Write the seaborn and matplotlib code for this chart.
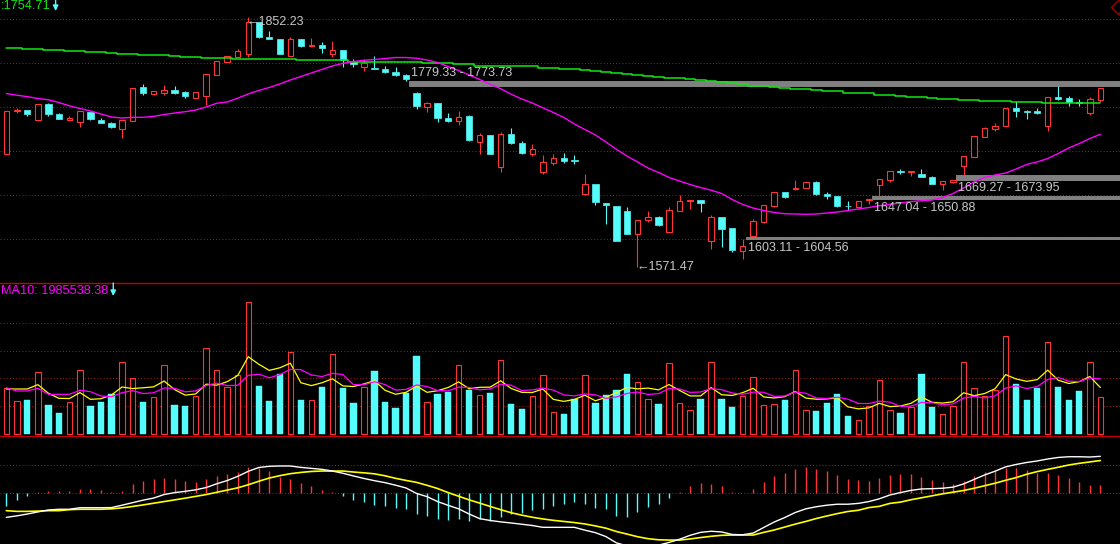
import numpy as np
import pandas as pd
import matplotlib
matplotlib.use("Agg")
import matplotlib.pyplot as plt
import seaborn as sns

# ---------------- data ----------------
open_ = [1698.3, 1746.2, 1747.3, 1735.7, 1754.0, 1742.5, 1736.4, 1734.2, 1745.1, 1736.1,
         1732.7, 1726.3, 1735.3, 1773.1, 1765.6, 1766.7, 1770.1, 1767.5, 1761.1, 1763.4,
         1786.9, 1801.5, 1807.1, 1810.5, 1846.1, 1829.2, 1827.0, 1808.2, 1827.0, 1818.8,
         1820.3, 1810.5, 1814.6, 1801.2, 1795.9, 1794.8, 1793.3, 1790.3, 1786.6, 1766.4,
         1751.0, 1755.2, 1738.3, 1735.3, 1740.6, 1711.7, 1719.2, 1683.7, 1720.4, 1709.9,
         1698.3, 1678.1, 1687.8, 1694.0, 1691.2, 1653.4, 1664.3, 1642.9, 1639.6, 1634.0,
         1607.8, 1624.2, 1626.9, 1610.1, 1634.3, 1645.2, 1646.3, 1600.3, 1626.9, 1614.9,
         1589.4, 1605.6, 1621.9, 1639.9, 1654.9, 1658.3, 1659.8, 1666.8, 1652.7, 1650.8,
         1640.1, 1638.1, 1646.0, 1662.8, 1669.1, 1678.3, 1677.4, 1675.5, 1672.5, 1663.9,
         1666.8, 1684.1, 1694.9, 1717.3, 1726.3, 1729.7, 1749.6, 1746.2, 1746.5, 1729.7,
         1761.6, 1760.8, 1756.6, 1744.3, 1758.9]
high = [1745.9, 1749.6, 1747.8, 1754.0, 1755.2, 1743.9, 1740.2, 1746.0, 1745.3, 1738.3,
        1733.8, 1736.0, 1771.8, 1776.5, 1768.5, 1775.4, 1774.3, 1768.6, 1767.4, 1787.6,
        1802.1, 1807.8, 1815.8, 1852.23, 1846.5, 1836.0, 1827.4, 1828.9, 1827.2, 1828.4,
        1823.6, 1824.7, 1814.8, 1804.2, 1804.2, 1807.9, 1796.3, 1795.6, 1787.7, 1768.0,
        1756.6, 1755.4, 1743.9, 1746.2, 1742.0, 1721.5, 1719.4, 1722.6, 1727.1, 1712.2,
        1709.2, 1696.8, 1697.9, 1699.0, 1696.8, 1675.5, 1664.5, 1643.1, 1640.0, 1638.8,
        1623.7, 1634.3, 1628.7, 1638.8, 1651.6, 1646.5, 1646.5, 1629.5, 1627.1, 1615.1,
        1603.11, 1624.7, 1641.0, 1655.6, 1655.1, 1668.4, 1666.4, 1667.6, 1655.3, 1651.0,
        1644.8, 1645.7, 1647.04, 1670.1, 1678.7, 1680.7, 1678.7, 1681.4, 1672.7, 1667.5,
        1669.27, 1695.5, 1718.0, 1727.9, 1732.4, 1749.4, 1757.1, 1747.6, 1749.6, 1761.8,
        1774.2, 1763.0, 1759.7, 1761.6, 1771.9]
low = [1698.3, 1743.9, 1740.6, 1735.4, 1740.6, 1737.3, 1735.3, 1728.2, 1736.4, 1732.9,
       1727.1, 1716.2, 1735.1, 1764.1, 1764.5, 1764.1, 1765.6, 1761.1, 1760.9, 1753.2,
       1786.7, 1801.3, 1806.9, 1807.1, 1828.4, 1826.7, 1810.2, 1808.0, 1818.3, 1818.3,
       1811.6, 1807.1, 1795.9, 1795.9, 1791.4, 1793.5, 1788.8, 1785.8, 1779.33, 1748.4,
       1745.4, 1734.2, 1733.8, 1730.8, 1712.5, 1698.3, 1698.1, 1678.1, 1709.2, 1697.9,
       1696.0, 1675.8, 1685.6, 1687.8, 1686.7, 1651.9, 1640.7, 1619.7, 1600.3, 1608.3,
       1571.47, 1621.9, 1617.1, 1609.9, 1634.1, 1636.5, 1632.8, 1591.7, 1593.9, 1588.3,
       1579.8, 1604.56, 1620.8, 1638.8, 1648.2, 1658.1, 1659.6, 1652.3, 1647.1, 1638.8,
       1635.1, 1637.9, 1641.5, 1650.88, 1666.8, 1675.2, 1673.6, 1672.3, 1664.4, 1657.9,
       1665.7, 1673.95, 1694.7, 1717.1, 1723.7, 1729.5, 1739.8, 1737.5, 1743.2, 1724.1,
       1758.9, 1752.1, 1752.1, 1742.0, 1756.6]
close = [1745.9, 1747.0, 1742.8, 1753.7, 1742.8, 1737.5, 1738.7, 1745.8, 1737.2, 1733.1,
         1728.2, 1735.7, 1771.6, 1766.4, 1768.3, 1769.8, 1766.4, 1763.4, 1767.2, 1787.4,
         1801.9, 1807.6, 1813.5, 1845.7, 1829.6, 1827.0, 1810.5, 1826.6, 1819.1, 1820.3,
         1817.2, 1814.6, 1803.4, 1798.6, 1799.7, 1793.7, 1789.9, 1786.9, 1782.1, 1751.8,
         1754.8, 1738.3, 1735.3, 1739.4, 1713.6, 1719.2, 1698.3, 1720.4, 1709.9, 1698.7,
         1703.5, 1688.6, 1693.4, 1690.1, 1690.5, 1664.3, 1644.4, 1640.4, 1600.6, 1608.5,
         1623.5, 1626.9, 1618.3, 1634.7, 1644.8, 1646.3, 1643.3, 1626.9, 1614.1, 1590.2,
         1594.4, 1622.7, 1640.4, 1654.9, 1650.0, 1659.8, 1666.2, 1653.4, 1651.1, 1639.9,
         1639.7, 1645.5, 1647.0, 1669.9, 1678.5, 1677.8, 1678.5, 1672.5, 1664.6, 1667.3,
         1669.2, 1695.3, 1717.8, 1726.8, 1729.3, 1749.2, 1746.5, 1745.1, 1743.9, 1761.6,
         1760.0, 1756.6, 1755.5, 1759.3, 1771.7]

ma_long = [1816.5, 1816.5, 1815.4, 1815.4, 1814.3, 1814.3, 1813.2, 1813.2, 1812.1, 1812.1,
           1810.9, 1809.8, 1809.8, 1808.7, 1808.7, 1808.7, 1807.6, 1806.4, 1806.4, 1805.3,
           1805.3, 1805.3, 1804.2, 1804.2, 1804.2, 1804.2, 1804.2, 1804.2, 1803.1, 1803.1,
           1803.1, 1803.1, 1803.1, 1800.8, 1800.8, 1800.8, 1800.8, 1800.8, 1800.8, 1800.8,
           1799.7, 1799.7, 1799.7, 1798.6, 1798.6, 1797.0, 1797.0, 1797.0, 1797.0, 1797.0,
           1796.3, 1794.1, 1794.1, 1793.0, 1793.0, 1791.9, 1790.7, 1789.6, 1788.5, 1787.4,
           1786.3, 1785.1, 1784.0, 1782.9, 1782.9, 1781.8, 1780.6, 1779.5, 1778.4, 1777.3,
           1776.2, 1773.9, 1773.9, 1772.8, 1771.7, 1770.5, 1770.5, 1769.4, 1768.3, 1768.3,
           1766.1, 1766.1, 1766.1, 1763.8, 1763.8, 1762.7, 1761.6, 1761.6, 1760.4, 1759.3,
           1759.3, 1758.2, 1758.2, 1757.1, 1757.1, 1757.1, 1755.9, 1755.9, 1755.9, 1754.8,
           1754.8, 1754.8, 1754.8, 1754.8, 1754.71]
ma_mid = [1765.8, 1763.9, 1762.3, 1760.2, 1758.8, 1755.7, 1752.0, 1749.0, 1746.2, 1742.8,
          1739.5, 1738.3, 1739.1, 1739.1, 1740.2, 1742.2, 1743.9, 1745.4, 1747.3, 1750.7,
          1754.9, 1756.3, 1760.6, 1765.3, 1769.2, 1772.6, 1776.5, 1781.0, 1784.9, 1788.8,
          1792.8, 1796.7, 1799.7, 1801.7, 1803.1, 1804.0, 1805.1, 1806.2, 1806.2, 1805.4,
          1803.4, 1800.6, 1796.1, 1791.6, 1786.6, 1781.5, 1776.2, 1771.2, 1764.9, 1759.7,
          1755.2, 1749.8, 1744.5, 1738.9, 1731.6, 1725.4, 1719.3, 1711.4, 1703.2, 1695.7,
          1689.0, 1682.2, 1677.2, 1671.6, 1667.6, 1663.7, 1660.3, 1657.3, 1653.6, 1646.9,
          1641.3, 1637.3, 1634.5, 1632.3, 1630.9, 1630.6, 1630.3, 1630.6, 1631.7, 1632.8,
          1634.5, 1636.2, 1637.9, 1639.9, 1641.5, 1642.9, 1644.6, 1645.5, 1646.3, 1649.1,
          1653.6, 1659.8, 1666.5, 1671.6, 1674.4, 1676.6, 1681.1, 1686.2, 1689.0, 1692.9,
          1698.5, 1704.7, 1709.7, 1715.3, 1720.0]

volume_m = [1.666, 1.176, 1.223, 2.219, 1.043, 0.755, 1.140, 2.291, 1.007, 1.151,
            1.428, 2.579, 2.004, 1.151, 1.320, 2.471, 1.043, 1.007, 1.356, 3.083,
            2.291, 1.680, 2.112, 4.737, 1.727, 1.187, 2.147, 2.939, 1.223, 1.212,
            1.691, 2.867, 1.655, 1.115, 1.680, 2.266, 1.151, 0.935, 1.464, 2.806,
            1.140, 1.439, 1.511, 2.471, 1.583, 1.392, 1.475, 2.651, 1.079, 0.899,
            1.356, 2.112, 0.781, 0.719, 1.247, 2.112, 1.115, 1.403, 1.583, 2.158,
            1.858, 1.259, 1.079, 2.542, 1.103, 0.863, 1.259, 2.579, 1.259, 0.971,
            1.367, 2.039, 1.031, 1.067, 1.223, 2.291, 0.851, 0.827, 1.115, 1.439,
            0.647, 0.492, 1.007, 1.930, 0.851, 0.755, 0.971, 2.158, 0.971, 0.707,
            0.995, 2.579, 1.643, 1.356, 1.583, 3.514, 1.799, 1.223, 1.655, 3.299,
            1.691, 1.223, 1.547, 2.579, 1.320]
vol_ma5_head = [1.619, 1.619, 1.619, 1.775]
vol_ma10_head = [1.666, 1.547, 1.547, 1.643, 1.428, 1.428, 1.428, 1.572, 1.522]

dif = [-17.2, -16.1, -14.8, -13.3, -11.9, -11.4, -11.4, -10.3, -10.3, -10.3,
       -10.2, -8.5, -6.7, -4.9, -3.4, -0.9, 0.5, 1.4, 2.5, 4.1,
       6.8, 9.1, 12.1, 15.7, 18.4, 19.3, 19.5, 19.5, 18.5, 17.8,
       17.1, 15.9, 14.3, 12.4, 10.6, 9.0, 7.6, 5.8, 3.8, -0.1,
       -2.4, -5.9, -8.6, -11.1, -14.8, -18.1, -19.4, -20.4, -21.2, -22.1,
       -23.0, -24.3, -24.3, -24.3, -24.3, -26.3, -28.1, -30.9, -35.4, -37.5,
       -37.7, -37.3, -37.0, -35.1, -32.8, -30.0, -27.9, -27.1, -27.6, -29.4,
       -29.6, -28.4, -24.4, -20.5, -17.3, -13.7, -11.1, -9.6, -8.5, -7.8,
       -7.8, -7.2, -5.9, -3.9, -1.2, 0.5, 2.1, 3.1, 3.3, 3.6,
       4.4, 6.7, 9.9, 13.1, 15.8, 18.9, 20.6, 22.0, 23.1, 24.5,
       25.6, 26.1, 26.1, 25.9, 26.4]
dea = [-12.4, -12.9, -12.9, -12.7, -12.4, -12.4, -11.7, -11.4, -11.4, -11.4,
       -11.1, -10.4, -9.4, -8.3, -7.1, -5.9, -4.7, -3.5, -2.2, -0.9,
       0.7, 2.3, 3.9, 6.1, 8.6, 10.9, 12.6, 14.0, 14.9, 15.6,
       15.9, 15.9, 15.9, 15.2, 14.6, 13.9, 12.5, 10.7, 9.2, 7.8,
       5.7, 3.4, 0.5, -2.1, -4.7, -7.0, -9.4, -11.7, -13.9, -15.6,
       -17.1, -18.3, -19.3, -20.1, -20.9, -21.9, -23.3, -24.9, -27.3, -29.1,
       -31.0, -32.4, -33.2, -33.4, -33.4, -32.6, -31.6, -30.7, -30.0, -29.8,
       -29.8, -29.8, -27.9, -26.2, -24.1, -22.0, -20.1, -18.0, -16.2, -14.5,
       -13.0, -12.1, -10.2, -9.3, -7.2, -6.3, -4.6, -3.2, -1.8, -0.4,
       0.8, 2.0, 3.6, 5.4, 7.2, 9.3, 11.2, 13.6, 15.5, 17.1,
       18.6, 20.2, 21.4, 22.4, 23.4]
macd = [-8.8, -4.8, -1.7, 0.9, 1.6, 1.6, 1.6, 3.1, 3.1, 2.4,
        0.9, 1.6, 6.6, 8.8, 10.2, 11.2, 10.2, 8.8, 8.1, 10.2,
        12.4, 13.8, 15.2, 18.8, 18.1, 15.9, 11.6, 10.2, 7.4, 5.2,
        2.4, 0.7, -1.7, -4.8, -6.2, -8.4, -9.1, -10.5, -11.2, -14.8,
        -16.2, -18.4, -19.0, -18.4, -19.8, -18.4, -19.8, -16.9, -14.8, -14.1,
        -11.9, -11.2, -9.1, -7.6, -6.2, -7.6, -10.5, -11.2, -16.2, -16.9,
        -13.4, -9.8, -7.6, -3.4, 0.9, 5.2, 7.4, 6.6, 5.2, 0.9,
        0.0, 3.1, 8.1, 12.4, 14.5, 17.4, 18.8, 17.4, 15.9, 13.1,
        10.2, 9.5, 8.8, 10.9, 13.1, 13.8, 13.8, 11.6, 9.5, 8.1,
        6.6, 8.8, 12.4, 15.2, 15.9, 18.1, 18.1, 16.7, 14.5, 14.5,
        13.1, 10.9, 8.1, 5.9, 5.9]

price_grid = [1849.1, 1799.7, 1750.3, 1701.0, 1651.6, 1602.2]
vol_grid_m = [1, 2, 3, 4]
macd_grid = [20, 0]
gap_start = [38, 70, 82, 90]
gap_a = [1779.33, 1603.11, 1647.04, 1669.27]
gap_b = [1773.73, 1604.56, 1650.88, 1673.95]
gap_label_above = [True, False, False, False]
high_idx, high_val = 23, 1852.23
low_idx, low_val = 60, 1571.47
ma_long_label = ":1754.71"
vol_label = "MA10: 1985538.38"

# ---------------- style ----------------
RED = "#ff3535"
CYAN = "#54fcfc"
GREEN = "#12e612"
MAGENTA = "#ff00ff"
YELLOW = "#ffff00"
WHITE = "#ffffff"
GRID = "#981a1a"
SEP = "#c40000"
TXT = "#c8c8c8"
BAND = "#808080"

sns.set_theme(style="dark")
plt.rcParams["font.family"] = ["Liberation Sans", "DejaVu Sans"]

W, H = 1120, 544
fig = plt.figure(figsize=(W / 100, H / 100), dpi=100, facecolor="black")
ax_p = fig.add_axes([0, 1 - 282 / H, 1, 282 / H])
ax_v = fig.add_axes([0, 1 - 436 / H, 1, 153 / H])
ax_m = fig.add_axes([0, 0, 1, 107 / H])

n = len(close)
x = np.arange(n)
XMIN, XMAX = -0.599, 105.87

for ax in (ax_p, ax_v, ax_m):
    ax.set_facecolor("black")
    ax.set_xlim(XMIN, XMAX)
    ax.set_xticks([])
    ax.set_yticks([])
    ax.grid(False)
    for s in ax.spines.values():
        s.set_visible(False)

ax_p.set_ylim(1554.3, 1870.75)
ax_v.set_ylim(-0.072e6, 5.432e6)
ax_m.set_ylim(-36.2, 40.2)

dot = (0, (1, 2))
for g in price_grid:
    ax_p.axhline(g, color=GRID, lw=0.75, ls=dot, zorder=0)
for g in vol_grid_m:
    ax_v.axhline(g * 1e6, color=GRID, lw=0.75, ls=dot, zorder=0)
for g in macd_grid:
    ax_m.axhline(g, color=GRID, lw=0.75, ls=dot, zorder=0)

for side in ("top", "bottom"):
    ax_v.spines[side].set_visible(True)
    ax_v.spines[side].set_color(SEP)
    ax_v.spines[side].set_linewidth(1.0)

# ---------------- price panel ----------------
o = np.array(open_); h = np.array(high); l = np.array(low); c = np.array(close)
up = c >= o
top = np.maximum(o, c)
bot = np.minimum(o, c)

for s, a, b, above in zip(gap_start, gap_a, gap_b, gap_label_above):
    lo, hi = min(a, b), max(a, b)
    ax_p.fill_between([s + 0.28, XMAX], lo, hi, color=BAND, edgecolor=BAND,
                      linewidth=0.7, zorder=1)
    mid = (lo + hi) / 2
    ax_p.annotate(f"{a:.2f} - {b:.2f}", xy=(s + 0.5, mid),
                  xytext=(0, 7.8 if above else -7.6), textcoords="offset points",
                  ha="left", va="center", color=TXT, fontsize=9, zorder=6)

ax_p.vlines(x, top, h, colors=np.where(up, RED, CYAN), lw=0.8, zorder=3)
ax_p.vlines(x, l, bot, colors=np.where(up, RED, CYAN), lw=0.8, zorder=3)
ax_p.bar(x[up], (c - o)[up], bottom=o[up], width=0.52, facecolor="black",
         edgecolor=RED, linewidth=0.8, zorder=3)
ax_p.bar(x[~up], (o - c)[~up], bottom=c[~up], width=0.6, facecolor=CYAN,
         edgecolor=CYAN, linewidth=0.5, zorder=3)

sns.lineplot(x=x, y=ma_long, ax=ax_p, color=GREEN, lw=1.1, drawstyle="steps-mid",
             legend=False, zorder=4)
sns.lineplot(x=x, y=ma_mid, ax=ax_p, color=MAGENTA, lw=1.0, legend=False, zorder=4)

ax_p.annotate(f"\u2190{high_val:.2f}", xy=(high_idx, high_val), xytext=(-1, -4),
              textcoords="offset points", ha="left", va="center", color=TXT,
              fontsize=9, zorder=6)
ax_p.annotate(f"\u2190{low_val:.2f}", xy=(low_idx, low_val), xytext=(-1, 0),
              textcoords="offset points", ha="left", va="center", color=TXT,
              fontsize=9, zorder=6)

ax_p.plot([0.9985], [1 - 6.5 / 282], transform=ax_p.transAxes, marker="D", ms=7,
          mfc="none", mec="#a00000", mew=1.0, clip_on=False, zorder=6)

# ---------------- volume panel ----------------
vol = np.array(volume_m) * 1e6
vs = pd.Series(vol)
vma5 = vs.rolling(5).mean().to_numpy()
vma5[:4] = np.array(vol_ma5_head) * 1e6
vma10 = vs.rolling(10).mean().to_numpy()
vma10[:9] = np.array(vol_ma10_head) * 1e6

ax_v.bar(x[up], vol[up], width=0.52, facecolor="black", edgecolor=RED,
         linewidth=0.8, zorder=2)
ax_v.bar(x[~up], vol[~up], width=0.6, facecolor=CYAN, edgecolor=CYAN,
         linewidth=0.3, zorder=2)
sns.lineplot(x=x, y=vma5, ax=ax_v, color=YELLOW, lw=0.9, legend=False, zorder=4)
sns.lineplot(x=x, y=vma10, ax=ax_v, color=MAGENTA, lw=0.9, legend=False, zorder=4)

# ---------------- MACD panel ----------------
mh = np.array(macd)
ax_m.vlines(x, 0, mh, colors=np.where(mh >= 0, RED, CYAN), lw=1.0, zorder=2)
sns.lineplot(x=x, y=dea, ax=ax_m, color=YELLOW, lw=1.2, legend=False, zorder=3)
sns.lineplot(x=x, y=dif, ax=ax_m, color=WHITE, lw=1.0, legend=False, zorder=4)

# ---------------- panel labels with small cyan arrows ----------------
pt = fig.text(1 / W, 1 - 6 / H, ma_long_label, color=GREEN, fontsize=9.2,
              ha="left", va="center")
vt = fig.text(1 / W, 1 - 291 / H, vol_label, color=MAGENTA, fontsize=9.2,
              ha="left", va="center")
fig.canvas.draw()
for t, y0, y1 in ((pt, H - 0, H - 11), (vt, H - 283, H - 296)):
    bb = t.get_window_extent()
    fig.add_artist(matplotlib.patches.FancyArrowPatch(
        (bb.x1 + 5, y0), (bb.x1 + 5, y1), transform=None, arrowstyle="-|>",
        mutation_scale=8, shrinkA=0, shrinkB=0, color=CYAN, lw=1.0))

for ax in (ax_p, ax_v, ax_m):
    ax.set_xlabel("")
    ax.set_ylabel("")

fig.savefig("out.png", dpi=100, facecolor="black")
